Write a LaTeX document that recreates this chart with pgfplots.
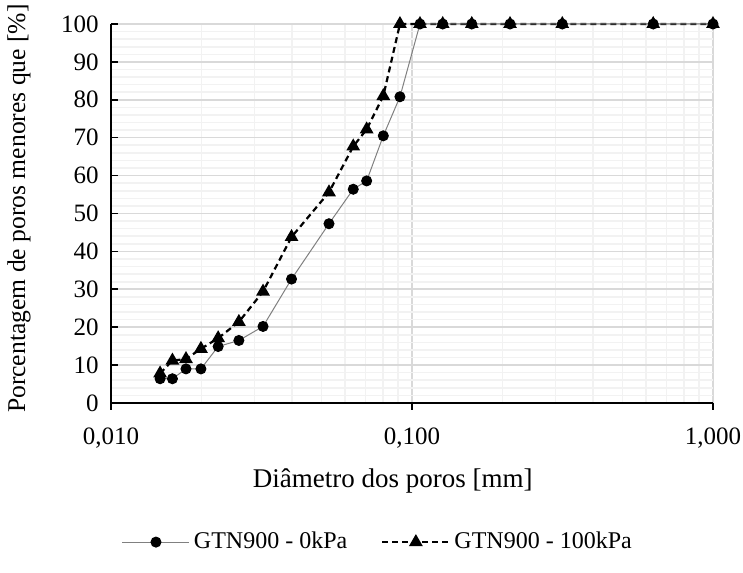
\documentclass[border=0pt]{standalone}
\usepackage{fontspec}
\setmainfont{Liberation Serif}
\usepackage{pgfplots}
\pgfplotsset{compat=1.18}
\definecolor{gridmaj}{RGB}{217,217,217}
\definecolor{gridmin}{RGB}{242,242,242}
\definecolor{lineg}{RGB}{128,128,128}
\begin{document}
\fontsize{12}{14}\selectfont
\begin{tikzpicture}
\begin{axis}[
    scale only axis,
    width=301pt, height=189.5pt,
    at={(0,0)}, anchor=south west,
    xmode=log, log basis x=10,
    xmin=0.01, xmax=1,
    ymin=0, ymax=100,
    xtick={0.01,0.1,1},
    xticklabels={{0,010},{0,100},{1,000}},
    ytick={0,10,...,100},
    minor y tick num=4,
    minor xtick={0.02,0.03,0.04,0.05,0.06,0.07,0.08,0.09,0.2,0.3,0.4,0.5,0.6,0.7,0.8,0.9},
    grid=both,
    major grid style={gridmaj, line width=0.8pt},
    minor grid style={gridmin, line width=0.8pt},
    axis x line*=bottom, axis y line*=left,
    axis line style={black, line width=1pt, -},
    tick align=inside,
    major tick length=3.5pt, minor tick length=0pt,
    tick style={black, line width=0.8pt},
    x tick style={yshift=-3.5pt},
    /pgf/number format/assume math mode=true,
    yticklabel style={xshift=-2pt},
    xticklabel style={yshift=-8pt},
    tick label style={font=\fontsize{12.5}{14}\selectfont},
    xlabel={Diâmetro dos poros [mm]},
    ylabel={Porcentagem de poros menores que [\%]},
    xlabel style={at={(axis description cs:0.468,-0.205)}, anchor=center, font=\fontsize{13.5}{16}\selectfont},
    ylabel style={at={(axis description cs:-0.153,0.513)}, anchor=center, font=\fontsize{12.8}{15}\selectfont},
    legend columns=2,
    legend style={draw=none, fill=none, at={(axis description cs:0.445,-0.367)}, anchor=center,
        font=\fontsize{12}{14}\selectfont, /tikz/every even column/.append style={column sep=15pt},
        /tikz/every odd column/.append style={column sep=0pt}},
    legend image code/.code={\draw[mark repeat=2,mark phase=2] plot coordinates {(0pt,0pt)(16.75pt,0pt)(33.5pt,0pt)};},
    clip=false,
]
\addlegendimage{lineg, line width=0.5pt, mark=*, mark size=2.5pt, mark options={black, fill=black, solid}}
\addlegendentry{GTN900 - 0kPa}
\addlegendimage{black, line width=1.1pt, dash pattern=on 3pt off 2pt, mark=triangle*, mark size=2.9pt, mark options={black, fill=black, solid}}
\addlegendentry{GTN900 - 100kPa}

\addplot[black, line width=1.1pt, dash pattern=on 3pt off 2pt, mark=triangle*, mark size=2.9pt, mark options={solid, fill=black}, forget plot] coordinates {
(0.01456,7.8) (0.0160,11.2) (0.01775,11.6) (0.0199,14.3) (0.0227,17.1)
(0.0266,21.4) (0.0320,29.4) (0.0398,43.8) (0.0530,55.6) (0.0638,67.7)
(0.0707,72.2) (0.0803,81.0) (0.0912,100) (0.1063,100) (0.1265,100)
(0.158,100) (0.2117,100) (0.3157,100) (0.633,100) (1.0,100)
};
\addplot[lineg, line width=0.5pt, mark=*, mark size=2.5pt, mark options={black, fill=black}, forget plot] coordinates {
(0.01456,6.4) (0.0160,6.4) (0.01775,9.0) (0.0199,9.0) (0.0227,14.9)
(0.0266,16.5) (0.0320,20.2) (0.0398,32.7) (0.0530,47.3) (0.0638,56.4)
(0.0707,58.6) (0.0803,70.5) (0.0912,80.8) (0.1063,100) (0.1265,100)
(0.158,100) (0.2117,100) (0.3157,100) (0.633,100) (1.0,100)
};
\end{axis}
\pgfresetboundingbox
\useasboundingbox (-55.5pt,-84.5pt) rectangle (316pt,201.5pt);
\end{tikzpicture}
\end{document}
